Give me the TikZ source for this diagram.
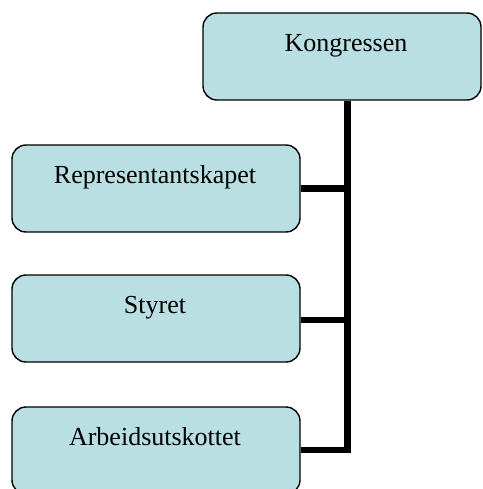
\documentclass[tikz,border=0pt]{standalone}
\usepackage{fontspec}
\setmainfont{Liberation Serif}
\usetikzlibrary{calc}
\definecolor{boxfill}{RGB}{185,223,227}
\tikzset{
  orgbox/.style={draw=black, line width=1.4pt, fill=boxfill, rounded corners=14pt, inner sep=0pt},
  orglabel/.style={anchor=base, font=\fontsize{26}{30}\selectfont, inner sep=0pt},
  conn/.style={line width=6.5pt, line cap=rect}
}
\begin{document}
\begin{tikzpicture}[x=1pt, y=-1pt]
\useasboundingbox (0,0) rectangle (482,489);
% boxes
\draw[orgbox] (203,13) rectangle (481,100);
\coordinate (kN) at (342,13);
\node[inner sep=0pt, minimum size=0pt] (k) at (342,56.5) {};
\draw[orgbox] (12,145) rectangle (300,232);
\draw[orgbox] (12,275) rectangle (300,362);
\draw[orgbox] (12,407) rectangle (300,494);
% named anchors
\coordinate (kS) at (347.5,100.7);
\coordinate (rE) at (300.7,188.5);
\coordinate (sE) at (300.7,320);
\coordinate (aE) at (300.7,450);
\coordinate (jR) at (347.5,188.5);
\coordinate (jS) at (347.5,320);
\coordinate (jA) at (347.5,450);
% labels
\node[orglabel] (kt) at (346,52) {Kongressen};
\node[orglabel] (rt) at (155,183) {Representantskapet};
\node[orglabel] (st) at (155,313) {Styret};
\node[orglabel] (at) at (155,445) {Arbeidsutskottet};
% connectors
\draw[line width=6.5pt] (kS) -- ($(jA)+(0,3.25)$);
\draw[line width=6.5pt] (rE) -- (jR);
\draw[line width=6.5pt] (sE) -- (jS);
\draw[line width=6.5pt] (aE) -- (jA);
\end{tikzpicture}
\end{document}
